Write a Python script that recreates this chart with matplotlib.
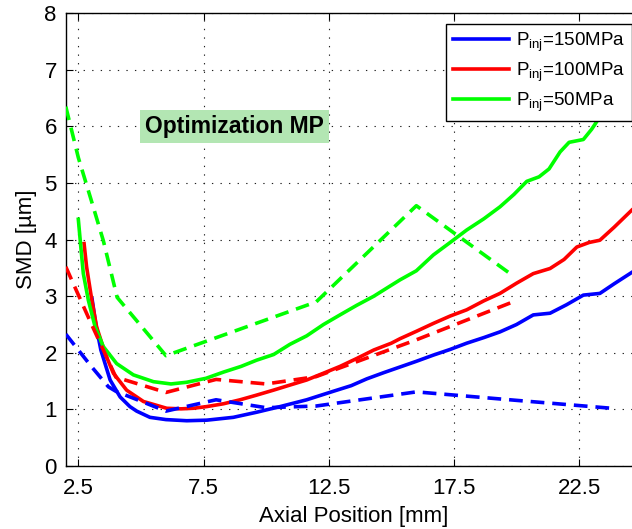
import matplotlib
matplotlib.use("Agg")
import matplotlib.pyplot as plt

# solid curves (axial position in mm, SMD in um)
x_150 = [3.05, 3.20, 3.40, 3.77, 4.17, 4.56, 4.83, 5.36, 6.00, 6.83, 7.63, 8.69, 9.62, 10.56,
         11.62, 12.68, 13.40, 14.02, 14.70, 15.35, 16.00, 16.68, 17.35, 18.01, 18.70, 19.34,
         20.00, 20.67, 21.34, 22.00, 22.67, 23.33, 23.90, 24.60]
smd_150 = [2.95, 2.50, 2.05, 1.52, 1.22, 1.05, 0.97, 0.86, 0.82, 0.80, 0.81, 0.86, 0.95, 1.05,
           1.17, 1.32, 1.42, 1.54, 1.65, 1.75, 1.85, 1.96, 2.06, 2.17, 2.27, 2.37,
           2.50, 2.67, 2.70, 2.85, 3.02, 3.05, 3.22, 3.42]

x_100 = [2.73, 2.83, 3.04, 3.23, 3.57, 3.90, 4.43, 5.10, 6.03, 6.60, 7.09, 7.63, 8.30, 8.96,
         9.60, 10.29, 10.95, 11.62, 12.29, 12.95, 13.62, 14.30, 15.00, 15.35, 16.00, 16.68,
         17.35, 18.01, 18.70, 19.34, 20.00, 20.67, 21.34, 21.90, 22.41, 22.90, 23.33, 23.90, 24.60]
smd_100 = [3.93, 3.52, 2.93, 2.46, 1.99, 1.64, 1.34, 1.14, 1.02, 1.01, 1.02, 1.05, 1.10, 1.17,
           1.25, 1.34, 1.43, 1.52, 1.64, 1.76, 1.90, 2.05, 2.17, 2.25, 2.38, 2.52,
           2.65, 2.76, 2.92, 3.05, 3.23, 3.40, 3.49, 3.65, 3.87, 3.95, 3.99, 4.22, 4.52]

x_50 = [2.50, 2.60, 2.70, 2.90, 3.17, 3.50, 4.03, 4.70, 5.50, 6.20, 6.83, 7.60, 8.30, 9.00,
        9.62, 10.30, 10.95, 11.62, 12.29, 12.95, 13.62, 14.30, 14.95, 15.35, 16.00, 16.68,
        17.35, 18.01, 18.70, 19.34, 19.90, 20.41, 20.90, 21.30, 21.74, 22.10, 22.67, 23.00,
        23.33, 24.00, 24.60]
smd_50 = [4.36, 3.87, 3.40, 2.93, 2.46, 2.11, 1.81, 1.61, 1.49, 1.45, 1.48, 1.55, 1.66, 1.76,
          1.87, 1.97, 2.15, 2.30, 2.50, 2.67, 2.84, 3.00, 3.18, 3.29, 3.45, 3.73,
          3.95, 4.17, 4.37, 4.58, 4.80, 5.03, 5.11, 5.25, 5.55, 5.72, 5.77, 5.95,
          6.17, 6.45, 6.75]

# dashed curves (optimization MP)
xd_150 = [2.0, 3.0, 3.7, 4.0, 6.0, 8.0, 10.0, 12.0, 16.0, 20.0, 23.8]
smdd_150 = [2.33, 1.77, 1.40, 1.32, 0.97, 1.17, 1.03, 1.06, 1.31, 1.16, 1.02]

xd_100 = [2.0, 3.0, 4.0, 6.0, 8.0, 10.0, 12.0, 16.0, 19.8]
smdd_100 = [3.52, 2.53, 1.57, 1.30, 1.53, 1.45, 1.58, 2.23, 2.89]

xd_50 = [2.0, 2.5, 3.0, 3.5, 4.05, 6.0, 12.0, 16.0, 19.9]
smdd_50 = [6.35, 5.45, 4.72, 3.98, 2.98, 1.95, 2.90, 4.60, 3.35]

labels = ["P$_{\\mathregular{inj}}$=150MPa", "P$_{\\mathregular{inj}}$=100MPa",
          "P$_{\\mathregular{inj}}$=50MPa"]
colors = ["#0000ff", "#ff0000", "#00ff00"]

plt.rcParams["font.family"] = ["Liberation Sans", "DejaVu Sans"]

fig = plt.figure(figsize=(6.32, 5.29), dpi=100)
# axes goes a bit past the right edge, like the cropped original
ax = fig.add_axes([65.8 / 632, 63 / 529, 575.9 / 632, 452.7 / 529])

solid = [(x_150, smd_150), (x_100, smd_100), (x_50, smd_50)]
dashed = [(xd_150, smdd_150), (xd_100, smdd_100), (xd_50, smdd_50)]

handles = []
for (xs, ys), c, lab in zip(solid, colors, labels):
    h, = ax.plot(xs, ys, color=c, lw=2.6, solid_joinstyle="round", label=lab, zorder=3)
    handles.append(h)
for (xs, ys), c in zip(dashed, colors):
    ax.plot(xs, ys, color=c, lw=2.6, linestyle=(0, (3.8, 2.2)), zorder=3)

ax.set_xlim(2, 25)
ax.set_ylim(0, 8)
ax.set_xticks([2.5, 7.5, 12.5, 17.5, 22.5])
ax.set_xticklabels(["2.5", "7.5", "12.5", "17.5", "22.5"])
ax.set_yticks(range(0, 9))
ax.grid(True, color="#222222", lw=0.8, linestyle=(0, (1.2, 6.5)), zorder=0)
ax.tick_params(direction="in", length=5, width=0.8, top=True, right=True, labelsize=16)
ax.tick_params(axis="x", pad=8.5)
ax.tick_params(axis="y", pad=6.5)
for s in ax.spines.values():
    s.set_linewidth(1.0)

ax.set_xlabel("Axial Position [mm]", fontsize=16, labelpad=5)
ax.set_ylabel("SMD [\u00b5m]", fontsize=16, labelpad=5)

ax.text(8.72, 6.0, "Optimization MP", fontsize=16.5, fontweight="bold", ha="center",
        va="center", bbox=dict(boxstyle="square,pad=0.22", fc="#b3e6b3", ec="none"), zorder=4)

leg = ax.legend(handles=handles, loc="upper right", bbox_to_anchor=(631.5 / 632, 1 - 24 / 529),
                bbox_transform=fig.transFigure, borderaxespad=0, fontsize=13.5, frameon=True,
                fancybox=False, edgecolor="black", framealpha=1, handlelength=3.0,
                handletextpad=0.35, labelspacing=0.35, borderpad=0.35)
leg.get_frame().set_linewidth(1.0)
leg.set_zorder(5)

fig.savefig("out.png", dpi=100)
